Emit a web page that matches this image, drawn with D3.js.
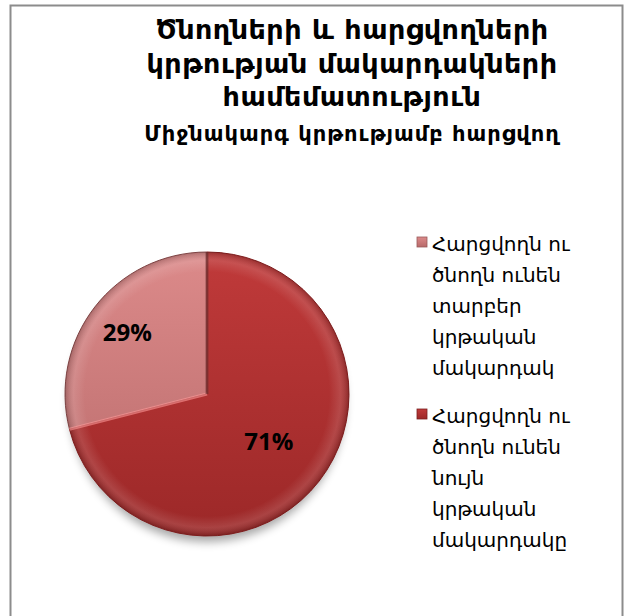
<!DOCTYPE html>
<html>
<head>
<meta charset="utf-8">
<script src="https://cdn.jsdelivr.net/npm/d3@7"></script>
<style>
  body { margin: 0; background: #fff; }
  svg { display: block; font-family: "DejaVu Sans", "Noto Sans", sans-serif; }
</style>
</head>
<body>
<div id="chart"></div>
<script>
// data
var titleLines = ["Ծնողների և հարցվողների", "կրթության մակարդակների", "համեմատություն"];
var subtitle = "Միջնակարգ կրթությամբ հարցվող";
var categories = [
  ["Հարցվողն ու", "ծնողն ունեն", "տարբեր", "կրթական", "մակարդակ"],
  ["Հարցվողն ու", "ծնողն ունեն", "նույն", "կրթական", "մակարդակը"]
];
var values = [29, 71];
var colorsTop = ["#dc8a8a", "#c03a3a"];
var colorsBottom = ["#b86a6a", "#9c2828"];

var w = 633, h = 616;
var cx = 207, cy = 394, r = 142;

var svg = d3.select('#chart').append('svg')
  .attr('width', w)
  .attr('height', h);

var defs = svg.append('defs');

// slice gradients
values.forEach(function(v, i) {
  var g = defs.append('linearGradient')
    .attr('id', 'grad' + i)
    .attr('gradientUnits', 'userSpaceOnUse')
    .attr('x1', 0).attr('y1', -r).attr('x2', 0).attr('y2', r);
  g.append('stop').attr('offset', '0%').attr('stop-color', colorsTop[i]);
  g.append('stop').attr('offset', '100%').attr('stop-color', colorsBottom[i]);

  var lg = defs.append('linearGradient')
    .attr('id', 'leg' + i)
    .attr('x1', 0).attr('y1', 0).attr('x2', 0).attr('y2', 1);
  lg.append('stop').attr('offset', '0%').attr('stop-color', colorsTop[i]);
  lg.append('stop').attr('offset', '100%').attr('stop-color', colorsBottom[i]);
});

// rim bevel shading
var rim = defs.append('radialGradient')
  .attr('id', 'rim')
  .attr('gradientUnits', 'userSpaceOnUse')
  .attr('cx', 0).attr('cy', 0).attr('r', r);
rim.append('stop').attr('offset', '86%').attr('stop-color', '#fff').attr('stop-opacity', 0);
rim.append('stop').attr('offset', '94%').attr('stop-color', '#fff').attr('stop-opacity', 0.12);
rim.append('stop').attr('offset', '100%').attr('stop-color', '#000').attr('stop-opacity', 0.2);

var shadow = defs.append('filter')
  .attr('id', 'shadow')
  .attr('x', '-20%').attr('y', '-20%').attr('width', '140%').attr('height', '140%');
shadow.append('feGaussianBlur').attr('stdDeviation', 5);

// chart border
svg.append('rect')
  .attr('x', 10.5).attr('y', 5.5)
  .attr('width', 612).attr('height', 620)
  .attr('fill', '#fff')
  .attr('stroke', '#8c8c8c')
  .attr('stroke-width', 2);

// title
var title = svg.append('text')
  .attr('text-anchor', 'middle')
  .attr('font-weight', 'bold')
  .attr('letter-spacing', '0.5px')
  .attr('fill', '#000');
titleLines.forEach(function(t, i) {
  title.append('tspan')
    .attr('x', 352)
    .attr('y', 39 + i * 33.5)
    .attr('font-size', '27px')
    .text(t);
});
svg.append('text')
  .attr('x', 352).attr('y', 141)
  .attr('text-anchor', 'middle')
  .attr('font-weight', 'bold')
  .attr('font-size', '21px')
  .attr('letter-spacing', '1px')
  .text(subtitle);

// pie
var total = d3.sum(values);
var start = -2 * Math.PI * values[0] / total;
var pie = d3.pie().sort(null).startAngle(start).endAngle(start + 2 * Math.PI);
var arcs = pie(values);
var arc = d3.arc().innerRadius(0).outerRadius(r);
var labelR = [0.71, 0.55];

var g = svg.append('g').attr('transform', 'translate(' + cx + ',' + cy + ')');

g.append('ellipse')
  .attr('cx', 0).attr('cy', 8)
  .attr('rx', r - 4).attr('ry', r - 2)
  .attr('fill', '#000')
  .attr('opacity', 0.35)
  .attr('filter', 'url(#shadow)');

g.selectAll('path.slice')
  .data(arcs)
  .enter()
  .append('path')
  .attr('class', 'slice')
  .attr('d', arc)
  .attr('fill', function(d, i) { return 'url(#grad' + i + ')'; })
  .attr('stroke', function(d, i) { return i === 0 ? '#8a4a4a' : '#8a2020'; })
  .attr('stroke-width', 1);

g.selectAll('path.bevel')
  .data(arcs)
  .enter()
  .append('path')
  .attr('class', 'bevel')
  .attr('d', arc)
  .attr('fill', 'url(#rim)');

// seam shading along the radial edges
g.selectAll('path.seam')
  .data(arcs)
  .enter()
  .append('path')
  .attr('class', 'seam')
  .attr('d', function(d) {
    var a = d.startAngle;
    return 'M0,0L' + (r * Math.sin(a)) + ',' + (-r * Math.cos(a));
  })
  .attr('stroke', function(d, i) { return i === 0 ? '#ff9a9a' : '#6a3030'; })
  .attr('stroke-opacity', 0.6)
  .attr('stroke-width', 3);

g.selectAll('text.pct')
  .data(arcs)
  .enter()
  .append('text')
  .attr('class', 'pct')
  .attr('transform', function(d, i) {
    var lr = r * labelR[i];
    return 'translate(' + d3.arc().innerRadius(lr).outerRadius(lr).centroid(d) + ')';
  })
  .attr('text-anchor', 'middle')
  .attr('dy', '0.35em')
  .attr('font-family', '"Open Sans", sans-serif')
  .attr('font-weight', 'bold')
  .attr('font-size', '24px')
  .attr('fill', '#000')
  .text(function(d) { return Math.round(d.data / total * 100) + '%'; });

// legend
var itemY = [244, 416];
var legend = svg.selectAll('g.legend')
  .data(categories)
  .enter()
  .append('g')
  .attr('class', 'legend')
  .attr('transform', function(d, i) { return 'translate(417,' + itemY[i] + ')'; });

legend.append('rect')
  .attr('x', 0).attr('y', -7)
  .attr('width', 10).attr('height', 10)
  .attr('fill', function(d, i) { return 'url(#leg' + i + ')'; })
  .attr('stroke', function(d, i) { return i === 0 ? '#9a5a5a' : '#7a2020'; })
  .attr('stroke-width', 0.8);

legend.append('text')
  .attr('font-size', '20px')
  .attr('fill', '#000')
  .selectAll('tspan')
  .data(function(d) { return d; })
  .enter()
  .append('tspan')
  .attr('x', 15)
  .attr('y', function(d, i) { return 7 + i * 31; })
  .text(function(d) { return d; });
</script>
</body>
</html>
